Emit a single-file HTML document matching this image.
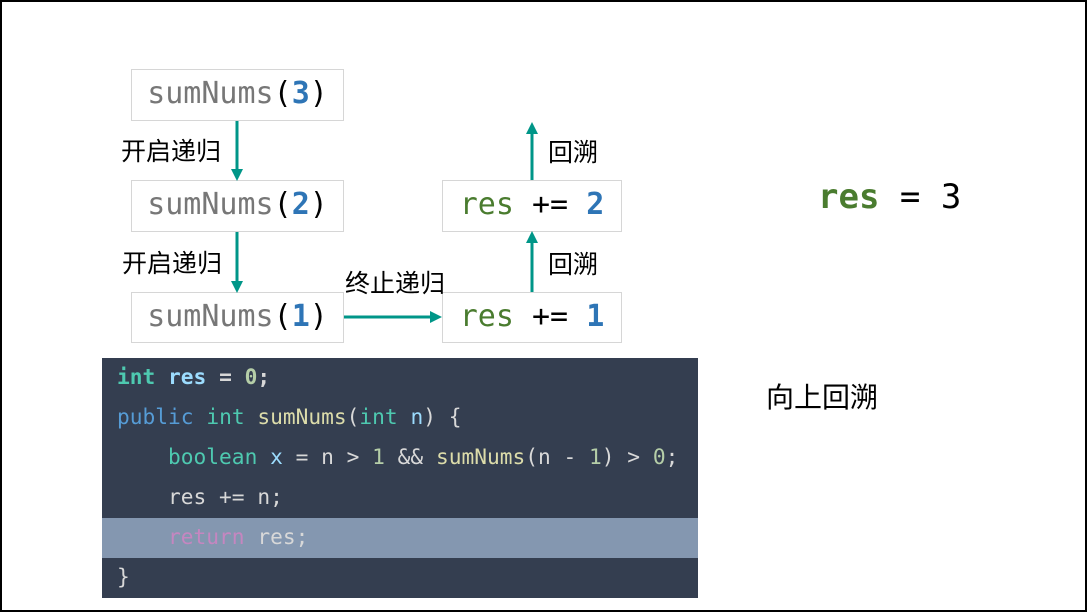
<!DOCTYPE html>
<html><head><meta charset="utf-8"><style>
*{margin:0;padding:0;box-sizing:border-box}
body{width:1087px;height:612px;background:#fff;position:relative;overflow:hidden;font-family:"Liberation Sans","Noto Sans CJK SC",sans-serif}
.frame{position:absolute;left:0;top:0;width:1087px;height:612px;border:2px solid #000}
.box{position:absolute;border:1px solid #d6d6d6;background:#fff;font-family:"DejaVu Sans Mono","Liberation Mono",monospace;font-size:30px;line-height:47px;text-align:center;color:#777;white-space:pre}
.box b{color:#2e75b6}
.g{color:#4a7c2f}
.k{color:#000}
.lbl{position:absolute;font-size:25px;color:#000;font-family:"Noto Sans CJK SC",sans-serif;line-height:1}
.code{position:absolute;left:102px;top:358px;width:596px;height:240px;background:#343e50;font-family:"DejaVu Sans Mono","Liberation Mono",monospace;font-size:21.2px;color:#d8d8d8}
.ln{height:40px;line-height:38px;padding-left:15px;white-space:pre}
.hl{background:#8497b0}
</style></head><body>
<div class="frame"></div>
<div class="box" style="left:131px;top:69px;width:213px;height:52px">sumNums<span class="k">(</span><b>3</b><span class="k">)</span></div>
<div class="box" style="left:131px;top:180px;width:213px;height:52px">sumNums<span class="k">(</span><b>2</b><span class="k">)</span></div>
<div class="box" style="left:131px;top:292px;width:213px;height:51px">sumNums<span class="k">(</span><b>1</b><span class="k">)</span></div>
<div class="box" style="left:442px;top:180px;width:180px;height:52px"><span class="g">res</span> <span class="k">+=</span> <b>2</b></div>
<div class="box" style="left:442px;top:292px;width:180px;height:51px"><span class="g">res</span> <span class="k">+=</span> <b>1</b></div>
<svg style="position:absolute;left:0;top:0" width="1087" height="612">
<g stroke="#009688" stroke-width="3" fill="#009688">
<line x1="237" y1="121" x2="237" y2="170"/><polygon stroke="none" points="231,169 243,169 237,181"/>
<line x1="237" y1="232" x2="237" y2="282"/><polygon stroke="none" points="231,281 243,281 237,293"/>
<line x1="344" y1="317" x2="431" y2="317"/><polygon stroke="none" points="430,311 430,323 442,317"/>
<line x1="532" y1="292" x2="532" y2="242"/><polygon stroke="none" points="526,243 538,243 532,231"/>
<line x1="532" y1="180" x2="532" y2="133"/><polygon stroke="none" points="526,134 538,134 532,122"/>
</g></svg>
<div class="lbl" style="left:121px;top:138px">开启递归</div>
<div class="lbl" style="left:122px;top:250px">开启递归</div>
<div class="lbl" style="left:345px;top:270px">终止递归</div>
<div class="lbl" style="left:548px;top:139px">回溯</div>
<div class="lbl" style="left:548px;top:251px">回溯</div>
<div style="position:absolute;left:818px;top:177px;font-family:'DejaVu Sans Mono',monospace;font-size:34px;line-height:40px;white-space:pre"><b style="color:#4a7c2f">res</b> = 3</div>
<div class="lbl" style="left:766px;top:382px;font-size:28px">向上回溯</div>
<div class="code">
<div class="ln"><b style="color:#4ec9b0">int</b> <b style="color:#9cdcfe">res</b> <b>=</b> <b style="color:#b5cea8">0</b><b>;</b></div>
<div class="ln"><span style="color:#569cd6">public</span> <span style="color:#4ec9b0">int</span> <span style="color:#dcdcaa">sumNums</span>(<span style="color:#4ec9b0">int</span> <span style="color:#9cdcfe">n</span>) {</div>
<div class="ln">    <span style="color:#4ec9b0">boolean</span> <span style="color:#9cdcfe">x</span> = n &gt; <span style="color:#b5cea8">1</span> &amp;&amp; <span style="color:#dcdcaa">sumNums</span>(n - <span style="color:#b5cea8">1</span>) &gt; <span style="color:#b5cea8">0</span>;</div>
<div class="ln">    res += n;</div>
<div class="ln hl">    <span style="color:#c586c0">return</span> res;</div>
<div class="ln">}</div>
</div>
</body></html>
